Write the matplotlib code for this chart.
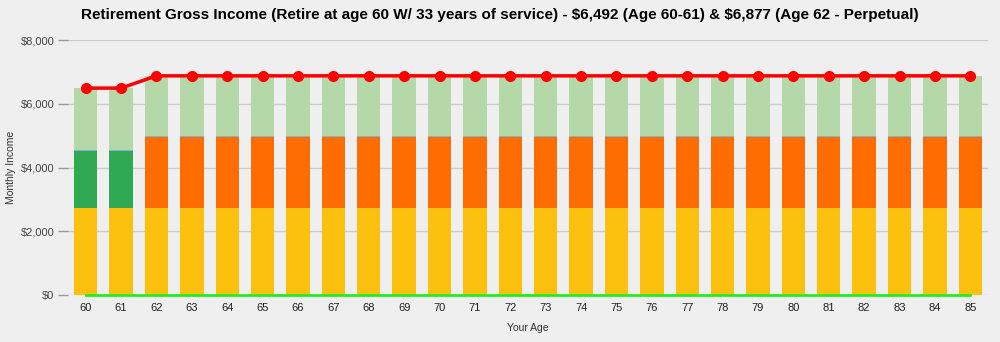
import matplotlib.pyplot as plt
import numpy as np

plt.rcParams["font.family"] = ["Liberation Sans", "DejaVu Sans"]

ages = list(range(60, 86))
social_security = [2740] * 26
early_supplement = [1778, 1778] + [0] * 24
pension_part = [0, 0] + [2217] * 24
divider = [30] * 26
savings = [1944, 1944] + [1890] * 24
totals = [6492, 6492] + [6877] * 24
baseline = [0] * 26

bg = "#efefef"
fig = plt.figure(figsize=(10, 3.42), dpi=100, facecolor=bg)
ax = fig.add_axes([0.068, 0.137, 0.92, 0.746], facecolor=bg)

x = np.arange(len(ages))
w = 0.66
bottom = np.zeros(len(ages))
for vals, col in [(social_security, "#fcc10f"), (early_supplement, "#31a852"),
                  (pension_part, "#ff6d01"), (divider, "#7fb2d6"),
                  (savings, "#b5d8a8")]:
    v = np.array(vals, dtype=float)
    ax.bar(x, v, w, bottom=bottom, color=col, linewidth=0, zorder=2)
    bottom += v

ax.plot(x, totals, color="#ff0000", lw=2.5, marker="o", ms=7, zorder=4)
ax.plot(x, baseline, color="#22ee22", lw=2, zorder=3, clip_on=False)

ax.set_xlim(-0.5, len(ages) - 0.5)
ax.set_ylim(0, 8000)
ax.set_yticks([0, 2000, 4000, 6000, 8000])
ax.set_yticklabels([r"\$0", r"\$2,000", r"\$4,000", r"\$6,000", r"\$8,000"], fontsize=8, color="#444444")
ax.set_xticks(x)
ax.set_xticklabels([str(a) for a in ages], fontsize=8, color="#222222")
ax.grid(axis="y", color="#cccccc", lw=1, zorder=0)
ax.tick_params(axis="y", length=7, color="#999999", width=1, pad=3)
ax.tick_params(axis="x", length=0, pad=6)
for s in ax.spines.values():
    s.set_visible(False)

ax.set_ylabel("Monthly Income", fontsize=7.5, color="#333333")
ax.yaxis.set_label_coords(-0.057, 0.5)
ax.set_xlabel("Your Age", fontsize=7.5, color="#333333", labelpad=7)
fig.suptitle(r"Retirement Gross Income (Retire at age 60 W/ 33 years of service) - \$6,492 (Age 60-61) & \$6,877 (Age 62 - Perpetual)",
             fontsize=11, fontweight="bold", x=0.5, y=0.978)

fig.savefig("out.png", dpi=100, facecolor=bg)
